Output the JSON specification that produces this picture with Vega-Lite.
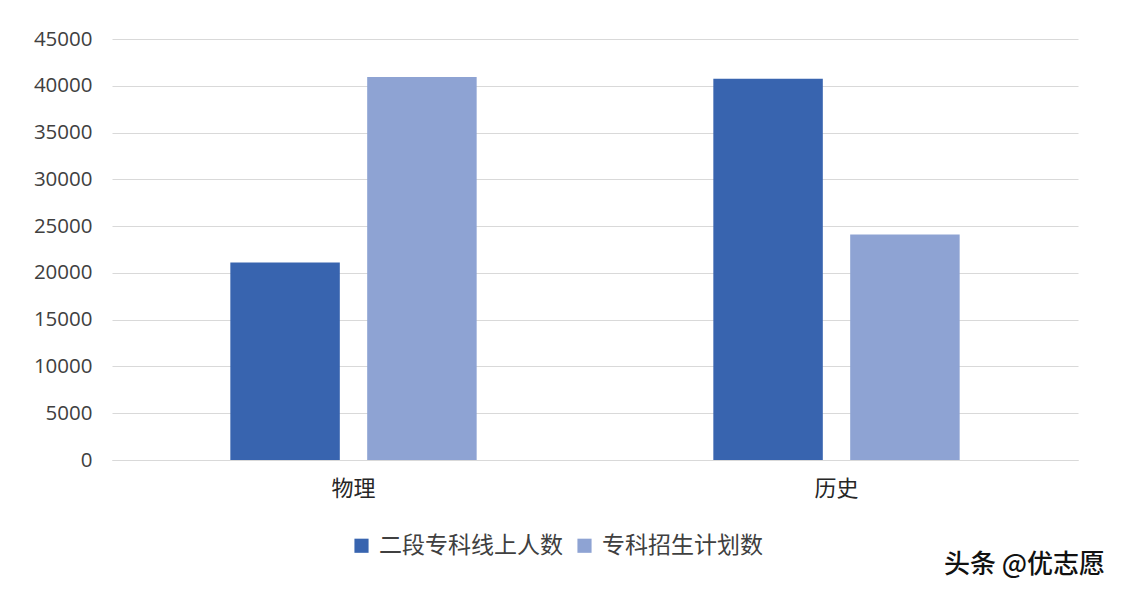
{
  "$schema": "https://vega.github.io/schema/vega-lite/v6.json",
  "width": 966,
  "height": 421,
  "autosize": {"type": "none"},
  "padding": {"left": 112, "top": 39, "right": 44, "bottom": 136},
  "background": "#ffffff",
  "data": {
    "values": [
      {"subject": "物理", "series": "二段专科线上人数", "value": 21100},
      {"subject": "物理", "series": "专科招生计划数", "value": 40950},
      {"subject": "历史", "series": "二段专科线上人数", "value": 40750},
      {"subject": "历史", "series": "专科招生计划数", "value": 24100}
    ]
  },
  "title": {
    "text": "头条 @优志愿",
    "orient": "bottom",
    "anchor": "end",
    "font": "Noto Sans CJK SC",
    "fontSize": 26,
    "fontWeight": 500,
    "color": "#111111",
    "offset": -6,
    "dx": 27
  },
  "mark": {"type": "bar"},
  "encoding": {
    "x": {
      "field": "subject",
      "type": "nominal",
      "sort": ["物理", "历史"],
      "scale": {"paddingInner": 0.49, "paddingOuter": 0.245},
      "axis": {
        "title": null,
        "labelAngle": 0,
        "ticks": false,
        "domainColor": "#d9d9d9",
        "labelFont": "Noto Sans CJK SC",
        "labelFontSize": 22,
        "labelColor": "#262626",
        "labelPadding": 18
      }
    },
    "xOffset": {
      "field": "series",
      "type": "nominal",
      "sort": ["二段专科线上人数", "专科招生计划数"],
      "scale": {"paddingInner": 0.2, "paddingOuter": 0}
    },
    "y": {
      "field": "value",
      "type": "quantitative",
      "scale": {"domain": [0, 45000]},
      "axis": {
        "title": null,
        "values": [0, 5000, 10000, 15000, 20000, 25000, 30000, 35000, 40000, 45000],
        "format": "d",
        "labelOverlap": false,
        "domain": false,
        "ticks": false,
        "gridColor": "#d9d9d9",
        "labelFont": "Open Sans",
        "labelFontSize": 20.5,
        "labelColor": "#404040",
        "labelPadding": 20
      }
    },
    "color": {
      "field": "series",
      "type": "nominal",
      "sort": ["二段专科线上人数", "专科招生计划数"],
      "scale": {"range": ["#3864af", "#8ea3d3"]},
      "legend": {
        "title": null,
        "orient": "none",
        "legendX": 238,
        "legendY": 495,
        "direction": "horizontal",
        "symbolType": "square",
        "symbolSize": 200,
        "labelFont": "Noto Sans CJK SC",
        "labelFontSize": 23,
        "labelLimit": 400,
        "labelColor": "#404040",
        "labelOffset": 6,
        "columnPadding": 10
      }
    }
  },
  "config": {
    "view": {"stroke": null}
  }
}
